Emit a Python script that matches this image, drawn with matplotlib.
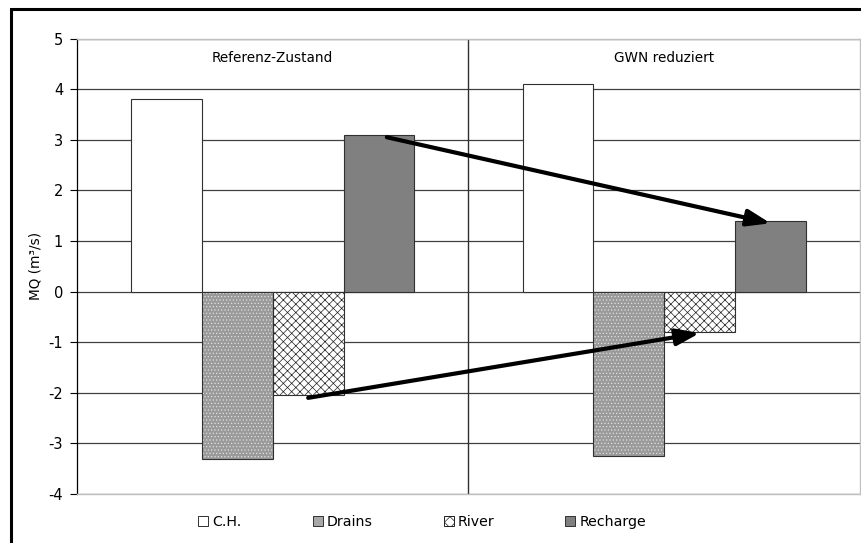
import matplotlib.pyplot as plt
import numpy as np
from matplotlib.patches import Rectangle

plt.rcParams['font.family'] = ['DejaVu Sans']
plt.rcParams['axes.unicode_minus'] = False
plt.rcParams['hatch.linewidth'] = 0.5

groups = ['Referenz-Zustand', 'GWN reduziert']
series = ['C.H.', 'Drains', 'River', 'Recharge']
ch = [3.8, 4.1]
drains = [-3.3, -3.25]
river = [-2.05, -0.8]
recharge = [3.1, 1.4]

fig = plt.figure(figsize=(8.62, 5.43), dpi=100)
ax = fig.add_axes([0.0893, 0.0902, 0.9084, 0.8388])

x = np.arange(len(groups))
w = 0.181
offs = np.array([-1.5, -0.5, 0.5, 1.5]) * w
edge = '#303030'

# C.H.
ax.bar(x + offs[0], ch, w, color='white', edgecolor=edge, lw=0.8, zorder=3)
# Drains: grey speckle
ax.bar(x + offs[1], drains, w, color='#9a9a9a', edgecolor='#e0e0e0', hatch='.....', lw=0, zorder=3)
ax.bar(x + offs[1], drains, w, fill=False, edgecolor=edge, lw=0.8, zorder=4)
# River: fine black pattern on white
ax.bar(x + offs[2], river, w, color='white', edgecolor='#202020', hatch='xxxx', lw=0, zorder=3)
ax.bar(x + offs[2], river, w, fill=False, edgecolor=edge, lw=0.8, zorder=4)
# Recharge
ax.bar(x + offs[3], recharge, w, color='#808080', edgecolor=edge, lw=0.8, zorder=3)

# legend proxies
h_ch = Rectangle((0, 0), 1, 1, facecolor='white', edgecolor=edge, lw=0.7)
h_dr = Rectangle((0, 0), 1, 1, facecolor='#a8a8a8', edgecolor=edge, lw=0.7)
h_rv = Rectangle((0, 0), 1, 1, facecolor='white', edgecolor='#202020', hatch='xxx', lw=0.7)
h_re = Rectangle((0, 0), 1, 1, facecolor='#808080', edgecolor=edge, lw=0.7)

# arrows between the scenarios
arrow = dict(arrowstyle='-|>,head_length=1.4,head_width=0.5', color='black', lw=3.0,
             shrinkA=0, shrinkB=0)
ax.annotate('', xy=(x[1] + offs[3], recharge[1] - 0.05),
            xytext=(x[0] + offs[3] + 0.02, recharge[0] - 0.05), arrowprops=arrow, zorder=6)
ax.annotate('', xy=(x[1] + offs[2], river[1] - 0.02),
            xytext=(x[0] + offs[2], river[0] - 0.05), arrowprops=arrow, zorder=6)

# scenario labels and separator
for xi, g in zip(x, groups):
    ax.text(xi, 4.62, g, ha='center', va='center', fontsize=9.8)
ax.axvline(0.5, color='#303030', lw=1.0, zorder=2)

ax.set_xlim(-0.5, 1.5)
ax.set_ylim(-4, 5)
ax.set_yticks(np.arange(-4, 6, 1))
ax.set_xticks([])
ax.tick_params(axis='y', direction='out', length=5, width=0.8, labelsize=10.5, pad=5)
ax.yaxis.grid(True, color='#404040', lw=0.9, zorder=0)
ax.set_axisbelow(True)
for s in ['top', 'right', 'bottom']:
    ax.spines[s].set_color('#c0c0c0')
    ax.spines[s].set_linewidth(1.0)
ax.spines['left'].set_color('black')
ax.spines['left'].set_linewidth(0.9)
ax.set_ylabel('MQ (m³/s)', fontsize=9.8, labelpad=4)

fig.legend([h_ch, h_dr, h_rv, h_re], series, loc='center', bbox_to_anchor=(0.49, 0.038),
           ncol=4, frameon=False, fontsize=10.2, handlelength=0.7, handleheight=0.7,
           handletextpad=0.3, columnspacing=5.0)

# outer chart border (left and top edges visible)
fig.add_artist(Rectangle((11 / 862, -0.1), 1.2, (543 - 9) / 543 + 0.1, transform=fig.transFigure,
                         fill=False, edgecolor='black', lw=2.2))

fig.savefig('out.png', dpi=100)
